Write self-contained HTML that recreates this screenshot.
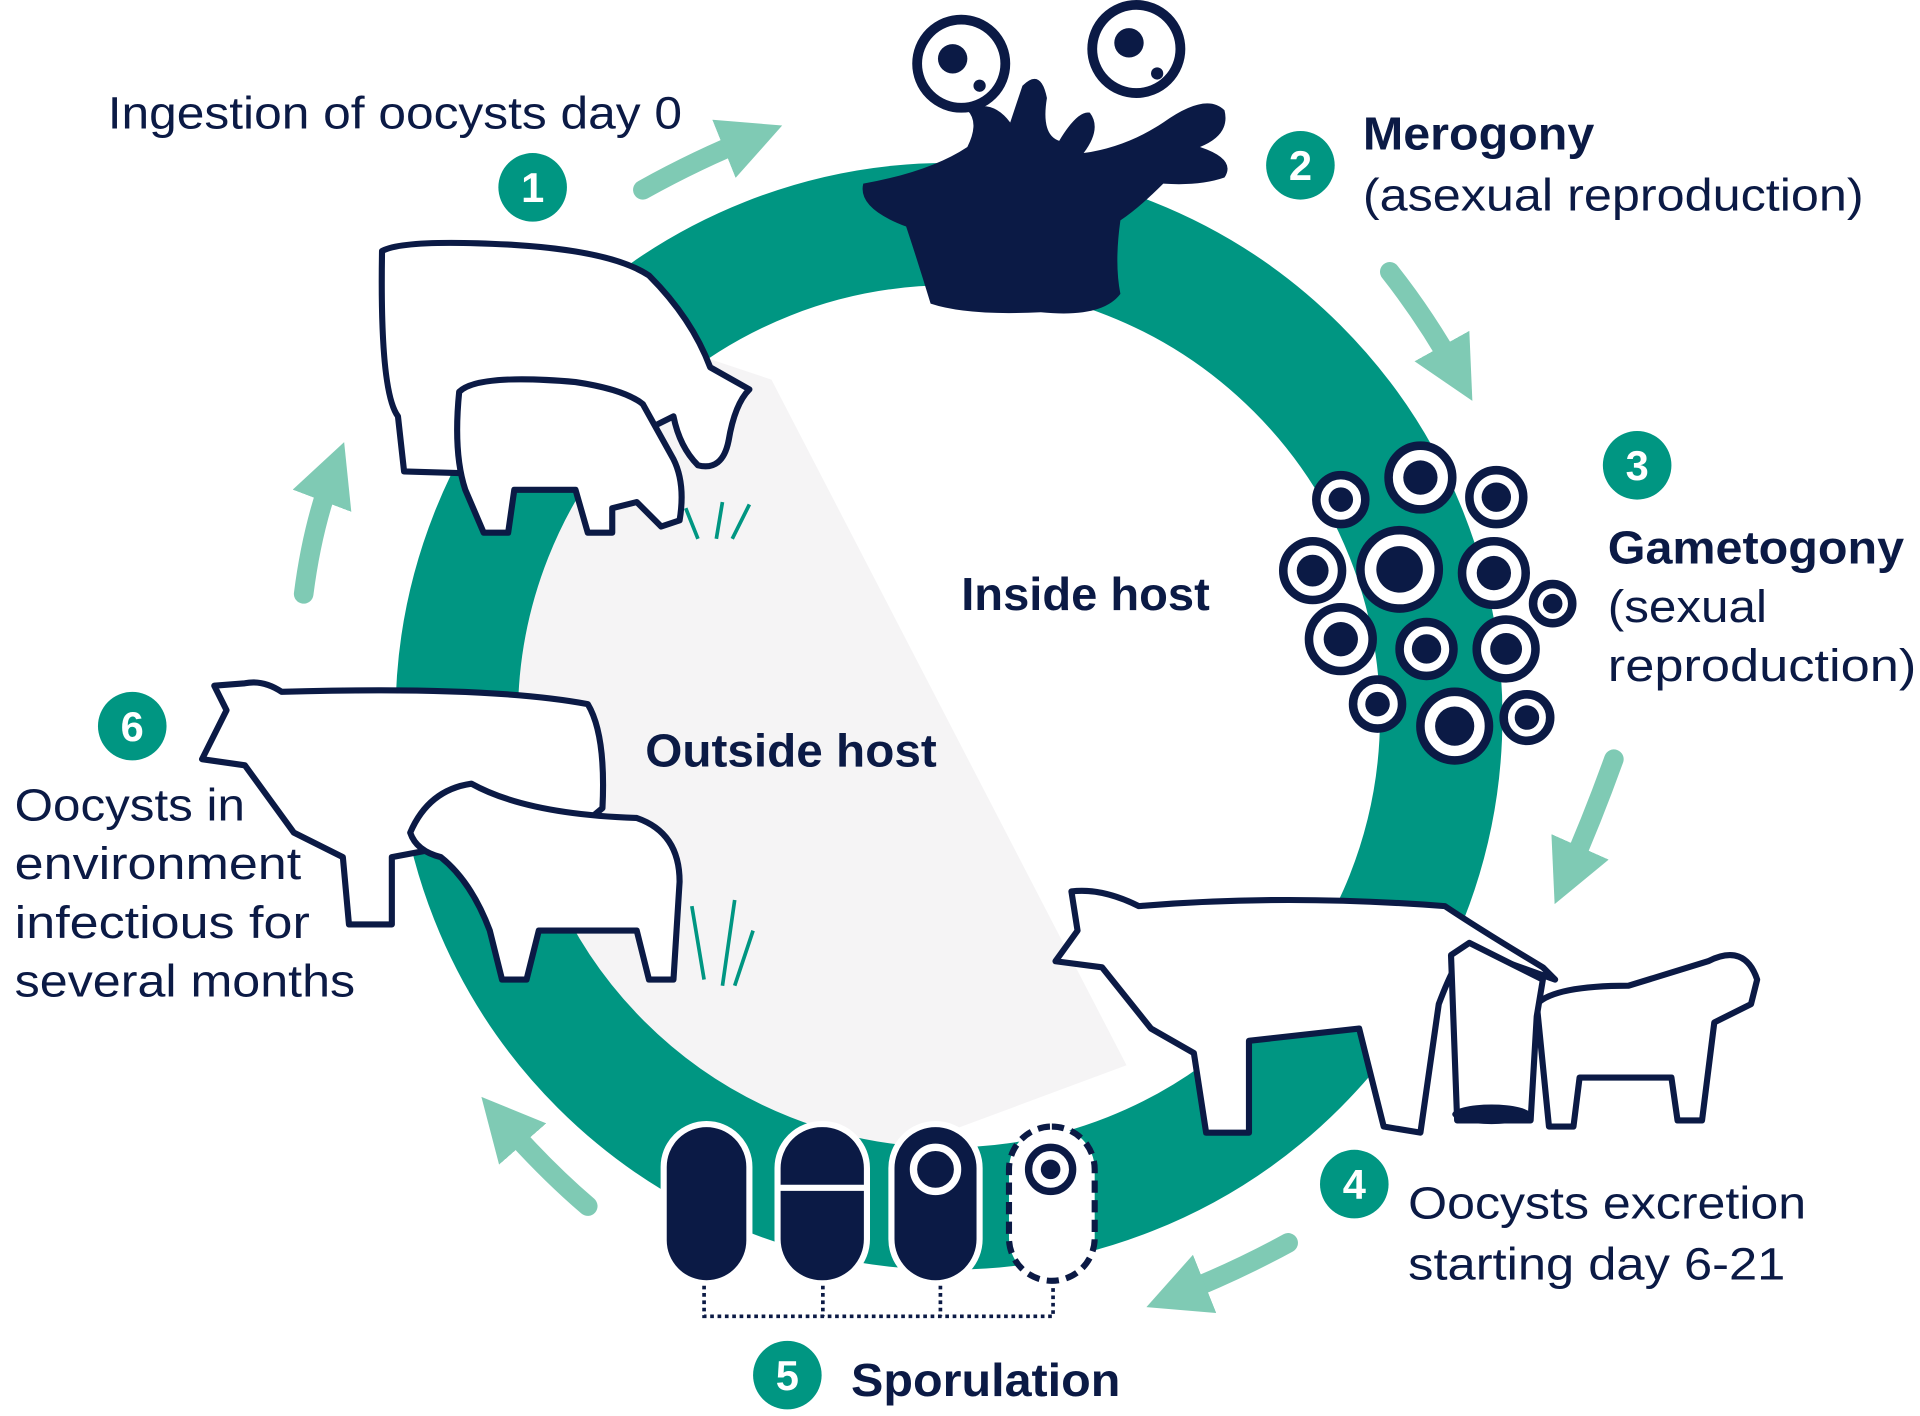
<!DOCTYPE html>
<html><head><meta charset="utf-8"><style>
html,body{margin:0;padding:0;background:#fff;}
svg{display:block}
text{font-family:"Liberation Sans",sans-serif;fill:#0b1a45}
.b{font-weight:bold}
</style></head><body>
<svg width="1920" height="1416" viewBox="0 0 1568 1156.4" preserveAspectRatio="none" xmlns="http://www.w3.org/2000/svg">
<defs>
<marker id="ah" viewBox="0 0 10 10" refX="5" refY="5" markerWidth="3.2" markerHeight="3.2" orient="auto"><path d="M0,0L10,5L0,10z" fill="#7fcab4"/></marker>
</defs>
<clipPath id="ic"><circle cx="775" cy="585" r="352"/></clipPath>
<polygon clip-path="url(#ic)" points="630,310 920,870 300,1100 300,200" fill="#f5f4f5"/>
<circle cx="775" cy="585" r="402" fill="none" stroke="#009682" stroke-width="100"/>
<g fill="none" stroke="#7fcab4" stroke-width="16" stroke-linecap="round" marker-end="url(#ah)">
<path d="M525,155 Q570,130 615,112"/>
<path d="M1135,222 Q1165,260 1190,305"/>
<path d="M1318,620 Q1300,670 1280,715"/>
<path d="M1052,1015 Q1010,1038 960,1058"/>
<path d="M480,985 Q445,955 410,915"/>
<path d="M248,485 Q255,430 272,385"/>
</g>
<path d="M705,150 Q760,140 790,120 Q800,100 790,90 Q810,80 825,100 L835,70 Q850,55 855,80 Q850,110 865,115 Q880,90 890,92 Q900,105 885,125 Q920,120 950,100 Q985,75 1000,90 Q1005,110 980,120 Q1010,130 1000,145 Q980,152 950,150 Q930,170 915,180 Q910,215 915,240 Q900,260 850,255 Q790,258 760,248 Q750,215 740,185 Q700,170 705,150z" fill="#0b1a45"/>
<g stroke="#0b1a45" stroke-width="8" fill="#fff">
<circle cx="785" cy="52" r="36"/><circle cx="928" cy="40" r="36"/>
</g>
<g fill="#0b1a45"><circle cx="778" cy="48" r="12"/><circle cx="922" cy="35" r="12"/><circle cx="800" cy="70" r="5"/><circle cx="945" cy="60" r="5"/></g>
<g stroke="#0b1a45" stroke-width="7" fill="#fff">
<circle cx="1160" cy="390" r="26"/><circle cx="1095" cy="408" r="20"/><circle cx="1222" cy="406" r="22"/>
<circle cx="1143" cy="465" r="32"/><circle cx="1072" cy="466" r="24"/><circle cx="1220" cy="468" r="26"/>
<circle cx="1268" cy="493" r="16"/><circle cx="1095" cy="522" r="26"/><circle cx="1165" cy="530" r="22"/>
<circle cx="1230" cy="530" r="24"/><circle cx="1125" cy="575" r="20"/><circle cx="1188" cy="593" r="28"/><circle cx="1247" cy="586" r="19"/>
</g>
<g fill="#0b1a45">
<circle cx="1160" cy="390" r="14"/><circle cx="1095" cy="408" r="10"/><circle cx="1222" cy="406" r="12"/>
<circle cx="1143" cy="465" r="19"/><circle cx="1072" cy="466" r="13"/><circle cx="1220" cy="468" r="14"/>
<circle cx="1268" cy="493" r="8"/><circle cx="1095" cy="522" r="14"/><circle cx="1165" cy="530" r="12"/>
<circle cx="1230" cy="530" r="13"/><circle cx="1125" cy="575" r="10"/><circle cx="1188" cy="593" r="16"/><circle cx="1247" cy="586" r="10"/>
</g>
<g stroke="#0b1a45" stroke-width="5" fill="#fff" stroke-linejoin="round">
<path d="M312,205 Q330,195 420,200 Q500,205 530,225 Q565,260 580,300 L612,318 Q600,330 595,360 Q590,385 570,380 Q555,365 550,340 L530,350 Q520,380 500,390 L330,385 L325,340 Q310,320 312,205z"/>
<path d="M375,320 Q390,305 470,312 Q510,318 525,330 L550,375 Q560,395 555,425 L540,430 L520,410 L500,415 L500,435 L480,435 L470,400 L420,400 L415,435 L395,435 L380,400 Q370,370 375,320z"/>
<path d="M175,560 L185,580 L165,620 L200,625 L240,680 L280,700 L285,755 L320,755 L320,700 L480,670 L492,660 Q495,600 480,575 Q400,560 230,565 Q215,555 200,558z"/>
<path d="M335,680 Q350,645 385,640 Q430,665 520,668 Q555,680 555,720 L550,800 L530,800 L520,760 L440,760 L430,800 L410,800 L400,760 Q385,720 360,700 Q340,695 335,680z"/>
<path d="M875,728 L880,760 L862,785 L900,790 L940,840 L975,860 L985,925 L1020,925 L1020,850 L1110,840 L1130,920 L1160,925 L1175,820 Q1190,780 1200,775 L1270,800 L1260,790 Q1210,760 1180,740 Q1050,730 930,740 Q900,725 875,728z"/>
<path d="M1255,820 Q1270,805 1330,805 L1395,785 Q1425,770 1435,800 L1430,820 L1400,835 L1390,915 L1370,915 L1365,880 L1290,880 L1285,920 L1265,920 L1260,870z"/>
<path d="M1185,780 L1200,770 L1260,800 L1255,830 L1250,915 L1190,915z"/>
</g>
<ellipse cx="1218" cy="910" rx="32" ry="8" fill="#0b1a45"/>
<g stroke="#009682" stroke-width="3" fill="none"><path d="M570,440 L560,415 M585,440 L590,410 M598,440 L612,412 M575,800 L565,740 M590,805 L600,735 M600,805 L615,760"/></g>
<g stroke="#0b1a45" stroke-width="5">
<rect x="542" y="918" width="70" height="130" rx="35" fill="#0b1a45" stroke="#fff"/>
<rect x="635" y="918" width="73" height="130" rx="36" fill="#0b1a45" stroke="#fff"/>
<rect x="728" y="918" width="72" height="130" rx="36" fill="#0b1a45" stroke="#fff"/>
<rect x="824" y="920" width="70" height="126" rx="35" fill="#fff" stroke-dasharray="10 6"/>
</g>
<line x1="637" y1="970" x2="706" y2="970" stroke="#fff" stroke-width="5"/>
<circle cx="764" cy="955" r="18" fill="none" stroke="#fff" stroke-width="6"/>
<circle cx="858" cy="955" r="18" fill="none" stroke="#0b1a45" stroke-width="6"/><circle cx="858" cy="955" r="8" fill="#0b1a45"/>
<path d="M575,1050 L575,1075 L860,1075 L860,1050 M672,1050 L672,1075 M768,1050 L768,1075" fill="none" stroke="#0b1a45" stroke-width="3" stroke-dasharray="3 3"/>
<g fill="#009682"><circle cx="435" cy="153" r="28"/><circle cx="1062" cy="135" r="28"/><circle cx="1337" cy="380" r="28"/><circle cx="1106" cy="967" r="28"/><circle cx="643" cy="1123" r="28"/><circle cx="108" cy="593" r="28"/></g>
<g font-size="34" font-weight="bold" text-anchor="middle">
<text x="435" y="165" style="fill:#fff">1</text><text x="1062" y="147" style="fill:#fff">2</text><text x="1337" y="392" style="fill:#fff">3</text><text x="1106" y="979" style="fill:#fff">4</text><text x="643" y="1135" style="fill:#fff">5</text><text x="108" y="605" style="fill:#fff">6</text>
</g>
<g font-size="37">
<text x="88" y="105" textLength="469" lengthAdjust="spacingAndGlyphs">Ingestion of oocysts day 0</text>
<text x="1113" y="122" class="b" font-size="38" textLength="189" lengthAdjust="spacingAndGlyphs">Merogony</text>
<text x="1113" y="172" textLength="409" lengthAdjust="spacingAndGlyphs">(asexual reproduction)</text>
<text x="1313" y="460" class="b" font-size="38" textLength="242" lengthAdjust="spacingAndGlyphs">Gametogony</text>
<text x="1313" y="508" textLength="130" lengthAdjust="spacingAndGlyphs">(sexual</text>
<text x="1313" y="556" textLength="252" lengthAdjust="spacingAndGlyphs">reproduction)</text>
<text x="785" y="498" class="b" font-size="38" textLength="203" lengthAdjust="spacingAndGlyphs">Inside host</text>
<text x="527" y="626" class="b" font-size="38" textLength="238" lengthAdjust="spacingAndGlyphs">Outside host</text>
<text x="12" y="670" textLength="188" lengthAdjust="spacingAndGlyphs">Oocysts in</text>
<text x="12" y="718" textLength="234" lengthAdjust="spacingAndGlyphs">environment</text>
<text x="12" y="766" textLength="241" lengthAdjust="spacingAndGlyphs">infectious for</text>
<text x="12" y="814" textLength="278" lengthAdjust="spacingAndGlyphs">several months</text>
<text x="1150" y="995" textLength="325" lengthAdjust="spacingAndGlyphs">Oocysts excretion</text>
<text x="1150" y="1045" textLength="308" lengthAdjust="spacingAndGlyphs">starting day 6-21</text>
<text x="695" y="1140" class="b" font-size="38" textLength="220" lengthAdjust="spacingAndGlyphs">Sporulation</text>
</g>
</svg>
</body></html>
